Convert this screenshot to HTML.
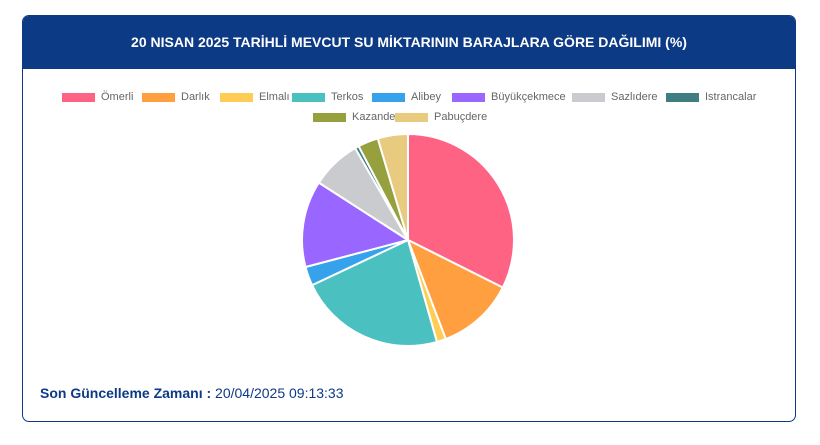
<!DOCTYPE html>
<html><head><meta charset="utf-8"><style>
body{margin:0;width:820px;height:445px;background:#fff;font-family:"Liberation Sans",sans-serif;position:relative;overflow:hidden}
#card{position:absolute;left:22px;top:15px;width:772px;height:405px;border:1px solid #0d3a85;border-radius:7px;overflow:hidden}
#hdr{height:53px;background:#0d3a85;color:#fff;font-weight:bold;font-size:14px;text-align:center;line-height:53px}
.leg{position:absolute;font-size:11px;color:#666;white-space:nowrap;display:flex;align-items:center}
.sw{display:inline-block;width:33px;height:9px;margin-right:6px}
#foot{position:absolute;left:40px;top:385px;font-size:14px;color:#0d3a85}
</style></head><body>
<div id="card">
<div id="hdr">20 NISAN 2025 TARİHLİ MEVCUT SU MİKTARININ BARAJLARA GÖRE DAĞILIMI (%)</div>
</div>
<div id="legend"></div>
<svg id="pie" width="820" height="445" style="position:absolute;left:0;top:0"></svg>
<div id="foot"><b>Son Güncelleme Zamanı :</b> 20/04/2025 09:13:33</div>
<script>
const categories=["Ömerli","Darlık","Elmalı","Terkos","Alibey","Büyükçekmece","Sazlıdere","Istrancalar","Kazandere","Pabuçdere"];
const values=[32.4,11.8,1.4,22.4,2.9,13.2,7.6,0.6,3.1,4.6];
const colors=["#ff6384","#ff9f40","#ffcd56","#4bc0c0","#36a2eb","#9966ff","#c9cbcf","#3e7d80","#96a03f","#e8cb7e"];
const legPos=[[62,98],[142,98],[220,98],[292,98],[372,98],[452,98],[572,98],[666,98],[313,118],[395,118]];
const lg=document.getElementById('legend');
categories.forEach((c,i)=>{
 const d=document.createElement('div');d.className='leg';
 
 
 d.style.left=legPos[i][0]+'px';d.style.top=(legPos[i][1]-7)+'px';
 d.innerHTML='<span class="sw" style="background:'+colors[i]+'"></span>'+c;
 lg.appendChild(d);
});
const svg=document.getElementById('pie');
const cx=408,cy=240,r=106;
const total=values.reduce((a,b)=>a+b,0);
let a0=0;
values.forEach((v,i)=>{
 const a1=a0+v/total*2*Math.PI;
 const x0=cx+r*Math.sin(a0),y0=cy-r*Math.cos(a0),x1=cx+r*Math.sin(a1),y1=cy-r*Math.cos(a1);
 const p=document.createElementNS('http://www.w3.org/2000/svg','path');
 p.setAttribute('d',`M${cx},${cy}L${x0},${y0}A${r},${r} 0 ${a1-a0>Math.PI?1:0} 1 ${x1},${y1}Z`);
 p.setAttribute('fill',colors[i]);p.setAttribute('stroke','#fff');p.setAttribute('stroke-width','2');
 
 
 svg.appendChild(p);a0=a1;
});
</script>
</body></html>
